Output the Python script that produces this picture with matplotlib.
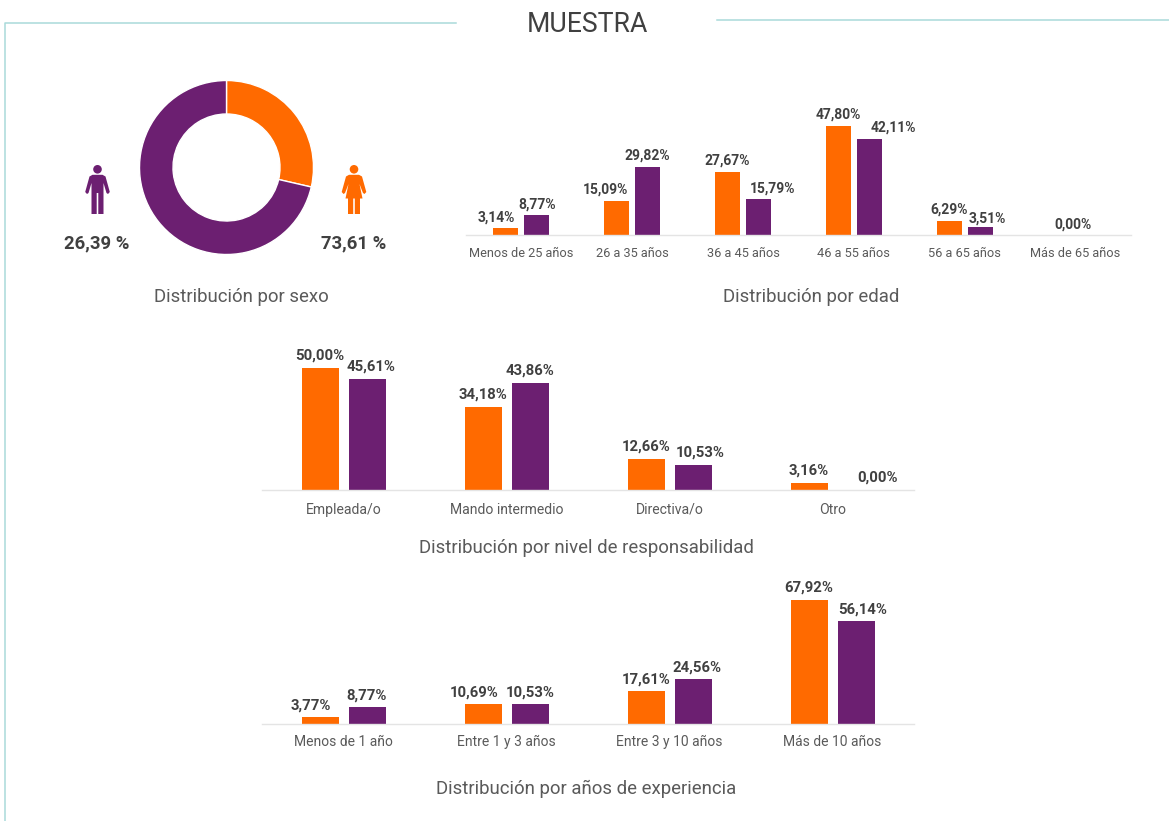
import matplotlib
matplotlib.use("Agg")
import matplotlib.pyplot as plt
from matplotlib.patches import Circle, Polygon
from matplotlib.lines import Line2D

W, H = 1169, 821
ORANGE = "#FF6A00"
PURPLE = "#6C1F71"
TEAL = "#A9DADA"
DARK = "#404040"
MID = "#5A5A5A"
plt.rcParams["font.family"] = ["Roboto", "DejaVu Sans"]

sexo_share = [28.6, 71.4]
sexo_labels = ["26,39 %", "73,61 %"]

edad_cats = ["Menos de 25 años", "26 a 35 años", "36 a 45 años", "46 a 55 años", "56 a 65 años", "Más de 65 años"]
edad_f = [3.14, 15.09, 27.67, 47.80, 6.29, 0.00]
edad_m = [8.77, 29.82, 15.79, 42.11, 3.51, 0.00]

resp_cats = ["Empleada/o", "Mando intermedio", "Directiva/o", "Otro"]
resp_f = [50.00, 34.18, 12.66, 3.16]
resp_m = [45.61, 43.86, 10.53, 0.00]

exp_cats = ["Menos de 1 año", "Entre 1 y 3 años", "Entre 3 y 10 años", "Más de 10 años"]
exp_f = [3.77, 10.69, 17.61, 67.92]
exp_m = [8.77, 10.53, 24.56, 56.14]

fig = plt.figure(figsize=(W / 100, H / 100), dpi=100, facecolor="white")


def fig_axes(x0, y0, x1, y1):
    """Axes from pixel box, y measured from the top."""
    return fig.add_axes([x0 / W, 1 - y1 / H, (x1 - x0) / W, (y1 - y0) / H])


# overlay in pixel coordinates
ov = fig.add_axes([0, 0, 1, 1], zorder=5)
ov.set_xlim(0, W)
ov.set_ylim(H, 0)
ov.axis("off")
ov.patch.set_alpha(0)

ov.add_line(Line2D([5, 5, 456], [821, 23.5, 23.5], color=TEAL, lw=1.1))
ov.add_line(Line2D([717, 1169], [20.5, 20.5], color=TEAL, lw=1.1))
ov.text(587, 24, "MUESTRA", ha="center", va="center", fontsize=19.2, color=DARK)


def man(cx, color):
    ov.add_patch(Circle((cx, 169.3), 4.3, color=color, lw=0))
    pts = [(-5, 174.8), (5, 174.8), (8, 176.5), (12.3, 192), (10.5, 194), (9, 193),
           (6, 183), (6, 214), (0.8, 214), (0.8, 193), (-0.8, 193), (-0.8, 214),
           (-6, 214), (-6, 183), (-9, 193), (-10.5, 194), (-12.3, 192), (-8, 176.5)]
    ov.add_patch(Polygon([(cx + a, b) for a, b in pts], closed=True, color=color, lw=0))


def woman(cx, color):
    ov.add_patch(Circle((cx, 169.3), 4.3, color=color, lw=0))
    pts = [(-5, 174.8), (5, 174.8), (8, 176.5), (12.3, 192), (10.5, 194), (9, 193),
           (5.5, 184), (8.5, 198.5), (6, 198.5), (6, 214), (0.8, 214), (0.8, 198.5),
           (-0.8, 198.5), (-0.8, 214), (-6, 214), (-6, 198.5), (-8.5, 198.5), (-5.5, 184),
           (-9, 193), (-10.5, 194), (-12.3, 192), (-8, 176.5)]
    ov.add_patch(Polygon([(cx + a, b) for a, b in pts], closed=True, color=color, lw=0))


man(97.5, PURPLE)
woman(354, ORANGE)
ov.text(97, 243.5, sexo_labels[0], ha="center", va="center", fontsize=13.3, fontweight="bold", color=DARK)
ov.text(354, 243.5, sexo_labels[1], ha="center", va="center", fontsize=13.3, fontweight="bold", color=DARK)

# donut
ax = fig_axes(139.5, 80.5, 313.5, 254.5)
ax.pie(sexo_share, colors=[ORANGE, PURPLE], startangle=90, counterclock=False, radius=1,
       wedgeprops=dict(width=0.385, edgecolor="white", linewidth=1.0))
ax.set_xlim(-1, 1)
ax.set_ylim(-1, 1)
ax.axis("off")


def bars(box, ppu, cats, f, m, width, gap, fsize_lbl, fsize_tick, lbl_off_f, lbl_off_m, lbl_y, tick_y):
    x0, y0, x1, y1 = box
    a = fig_axes(x0, y0, x1, y1)
    n = len(cats)
    gw = (x1 - x0) / n
    a.set_xlim(-0.5, n - 0.5)
    a.set_ylim(0, (y1 - y0) / ppu)
    a.patch.set_alpha(0)
    w = width / gw
    d = (width + gap) / 2 / gw
    xs = list(range(n))
    a.bar([x - d for x in xs], f, w, color=ORANGE, edgecolor="none")
    a.bar([x + d for x in xs], m, w, color=PURPLE, edgecolor="none")
    for i in xs:
        for val, sign, off in ((f[i], -1, lbl_off_f[i]), (m[i], 1, lbl_off_m[i])):
            if sign == -1 and val == 0:
                continue
            a.annotate(f"{val:.2f}%".replace(".", ","), (i + sign * d, val),
                       xytext=(off[0] * 0.72, (lbl_y - off[1]) * 0.72), textcoords="offset points",
                       ha="center", va="bottom", fontsize=fsize_lbl, fontweight="bold",
                       color=DARK, annotation_clip=False)
    for s in ("top", "left", "right"):
        a.spines[s].set_visible(False)
    a.spines["bottom"].set_color("#E4E4E4")
    a.spines["bottom"].set_linewidth(1.0)
    a.set_yticks([])
    a.set_xticks(xs)
    a.set_xticklabels(cats, fontsize=fsize_tick, color=MID)
    a.tick_params(axis="x", length=0, pad=tick_y)


bars((466, 100, 1131, 235.5), 2.30, edad_cats, edad_f, edad_m, 25, 6, 10, 9.2,
     [(-10, 0), (-11, 0), (0, 0), (0, 0), (0, 0), (0, 0)],
     [(0, 0), (0, 0), (14, 0), (24, 0), (7, 2), (-18, 0)], 4, 8)

bars((262, 340, 914, 490.5), 2.45, resp_cats, resp_f, resp_m, 37, 10, 10.7, 10.1,
     [(0, 0), (0, 0), (0, 0), (0, 0)],
     [(4, 0), (0, 0), (7, 0), (22, 0)], 5.5, 9)

bars((262, 580, 914, 723.5), 1.825, exp_cats, exp_f, exp_m, 37, 10, 10.7, 10.0,
     [(-9, 0), (-9, 0), (0, 0), (0, 0)],
     [(0, 0), (0, 0), (4, 0), (7, 0)], 4.5, 8.5)

for x, y, t in [(241, 297, "Distribución por sexo"), (811, 297, "Distribución por edad"),
                (586.5, 548, "Distribución por nivel de responsabilidad"),
                (586.5, 789, "Distribución por años de experiencia")]:
    ov.text(x, y, t, ha="center", va="center", fontsize=13.4, color=MID)

fig.savefig("out.png", dpi=100, facecolor="white")
